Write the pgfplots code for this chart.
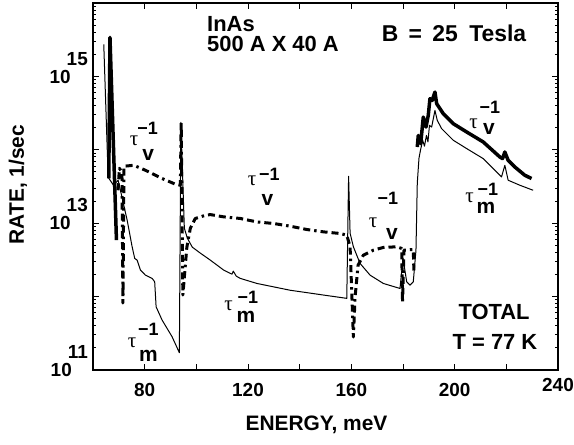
\documentclass[border=0pt]{standalone}
\usepackage{fontspec}
\setmainfont{Liberation Sans}
\newfontfamily\greekfont{Liberation Serif}
\usepackage{pgfplots}
\pgfplotsset{compat=1.18}
\usetikzlibrary{calc}

\newcommand\ylab[1]{\textbf{10}\kern-4bp\raisebox{18bp}{\textbf{#1}}}
\newcommand\tauglyph{{\greekfont\fontsize{21}{21}\selectfont τ}}
\newcommand\supm{{\fontsize{18}{18}\selectfont\bfseries −1}}
\newcommand\subs[1]{{\fontsize{21}{21}\selectfont\bfseries #1}}
% tau label: three pieces at rel axis positions
\newcommand\taulab[7]{%
  \node[inner sep=0pt] at (rel axis cs:#1,#2) {\tauglyph};
  \node[inner sep=0pt] at (rel axis cs:#3,#4) {\supm};
  \node[inner sep=0pt] at (rel axis cs:#5,#6) {\subs{#7}};
}

\begin{document}
\begin{tikzpicture}
\begin{axis}[
  scale only axis, width=465bp, height=367bp,
  xmin=60, xmax=240, ymode=log, ymin=1e11, ymax=1e16,
  axis line style={line width=1.5bp},
  tick style={black, line width=1bp},
  major tick length=6bp, minor tick length=3.5bp,
  xtick={80,100,...,220}, xticklabels={80,,120,,160,,200,},
  extra x ticks={240}, extra x tick labels={240},
  extra x tick style={tick label style={yshift=5bp}},
  ytick={1e11,1e12,1e13,1e14,1e15,1e16},
  yticklabels={\ylab{11},,\ylab{13},,\ylab{15},},
  minor ytick={2e11,3e11,4e11,5e11,6e11,7e11,8e11,9e11,
    2e12,3e12,4e12,5e12,6e12,7e12,8e12,9e12,
    2e13,3e13,4e13,5e13,6e13,7e13,8e13,9e13,
    2e14,3e14,4e14,5e14,6e14,7e14,8e14,9e14,
    2e15,3e15,4e15,5e15,6e15,7e15,8e15,9e15},
  tick label style={font=\fontsize{19}{19}\selectfont\bfseries, inner sep=0pt},
  xticklabel style={anchor=center, yshift=-20bp},
  yticklabel style={anchor=base east, xshift=-5bp, yshift=-6.8bp},
  xlabel={ENERGY, meV}, ylabel={RATE, 1/sec},
  label style={font=\fontsize{21}{21}\selectfont\bfseries},
  xlabel style={at={(axis description cs:0.4806,-0.1499)}, anchor=center},
  ylabel style={at={(axis description cs:-0.1613,0.505)}, anchor=center},
]
% tau_m (thin)
\addplot[black, line width=1bp, line join=round] coordinates {
(64.17,2.72e15)(65.87,4.23e13)(67.92,3.29e13)(69.74,3.85e13)(73.22,1.10e13)
(75.15,4.77e12)(76.15,3.31e12)(77.08,3.14e12)(78.36,2.30e12)(80.29,1.96e12)
(82.88,1.77e12)(83.88,1.59e12)(84.43,7.26e11)(86.74,4.79e11)(90.61,2.84e11)
(93.43,1.72e11)(94.01,2.37e14)(95.36,8.55e12)(96.52,6.25e12)(98.45,4.71e12)
(101.55,3.91e12)(105.41,3.14e12)(110.55,2.30e12)(113.80,2.02e12)(114.3,2.22e12)
(115.46,1.90e12)(117.0,1.77e12)(123.46,1.51e12)(136.33,1.22e12)(149.2,1.05e12)
(158.24,9.46e11)(158.94,4.36e13)(159.52,7.31e12)(160.79,4.77e12)(163.38,2.83e12)
(167.25,1.96e12)(172.39,1.51e12)(178.84,1.29e12)(180.0,3.34e12)(181.43,1.59e12)
(182.71,1.43e12)(183.98,1.59e12)(185.02,4.29e12)(185.53,3.50e13)(186.18,7.66e13)
(186.76,9.84e13)(187.61,1.35e14)(188.31,1.12e14)(189.08,1.57e14)(189.66,1.28e14)
(190.24,2.15e14)(191.09,2.04e14)(192.37,3.44e14)(193.26,2.52e14)(194.96,1.94e14)
(199.44,1.35e14)(204.62,1.04e14)(211.03,7.59e13)(218.14,4.27e13)(219.42,6.15e13)
(220.70,3.85e13)(225.22,3.29e13)(230.36,2.81e13)};
% tau_v (thick dashed part)
\addplot[black, line width=3bp, line join=round,
  dash pattern=on 7bp off 4bp on 7bp off 4bp on 2.5bp off 4bp] coordinates {
(69.66,2.81e13)(70.24,5.60e13)(71.21,4.94e13)(71.59,8.17e11)(71.98,5.97e13)
(75.77,6.15e13)(80.29,5.26e13)(86.74,4.06e13)(91.88,3.40e13)(93.82,3.29e13)
(94.13,2.44e14)(94.78,1.05e12)(96.33,4.71e12)(97.68,8.55e12)(99.61,1.16e13)
(103.48,1.28e13)(105.41,1.31e13)(110.55,1.22e13)(117.00,1.16e13)(123.46,1.04e13)
(129.88,9.91e12)(136.33,9.10e12)(142.78,8.20e12)(149.2,7.62e12)(155.65,7.24e12)
(158.24,6.87e12)(159.52,4.77e12)(160.79,2.81e11)(161.45,9.84e11)(162.61,2.68e12)
(164.66,3.67e12)(168.52,4.29e12)(172.39,4.67e12)(177.57,4.77e12)(179.50,4.53e12)
(179.81,8.41e11)(180.39,4.29e12)(183.98,4.39e12)(184.25,2.09e12)};
% tau_v (thick solid parts)
\addplot[black, line width=3.5bp, line join=round] coordinates {
(66.11,4.09e13)(66.57,3.40e15)(69.08,5.87e12)};
\addplot[black, line width=3.5bp, line join=round] coordinates {
(185.53,1.09e14)(185.91,1.57e14)(186.84,1.21e14)(187.85,2.79e14)(188.89,2.04e14)
(189.78,2.94e14)(190.43,4.97e14)(191.32,4.71e14)(191.71,5.22e14)(192.37,6.11e14)
(193.03,4.25e14)(195.58,3.11e14)(199.44,2.27e14)(204.62,1.75e14)(211.03,1.28e14)
(217.49,7.98e13)(218.53,7.59e13)(219.42,9.33e13)(220.70,7.19e13)(223.29,5.83e13)
(227.15,4.50e13)(229.74,4.06e13)};

\taulab{0.0882}{0.6253}{0.1175}{0.6583}{0.1189}{0.5866}{v}
\taulab{0.3420}{0.5150}{0.3794}{0.5343}{0.3753}{0.4626}{v}
\taulab{0.6022}{0.4019}{0.6343}{0.4689}{0.6430}{0.3699}{v}
\taulab{0.8184}{0.6703}{0.8536}{0.7169}{0.8516}{0.6574}{v}
\taulab{0.8098}{0.4700}{0.8493}{0.4921}{0.8452}{0.4408}{m}
\taulab{0.2915}{0.1744}{0.3332}{0.1992}{0.3290}{0.1438}{m}
\taulab{0.0839}{0.0749}{0.1192}{0.1120}{0.1194}{0.0389}{m}

\node[anchor=west, inner sep=0pt, font=\fontsize{22}{22}\selectfont\bfseries] at (rel axis cs:0.2452,0.9428) {InAs};
\node[anchor=west, inner sep=0pt, font=\fontsize{22}{22}\selectfont\bfseries] at (rel axis cs:0.2452,0.8883) {500 A X 40 A};
\node[inner sep=0pt, font=\fontsize{23}{23}\selectfont\bfseries] at (rel axis cs:0.7763,0.9183) {B\hspace{4bp} = \hspace{4bp}25\hspace{5bp} Tesla};
\node[inner sep=0pt, font=\fontsize{22}{22}\selectfont\bfseries] at (rel axis cs:0.8624,0.1580) {TOTAL};
\node[inner sep=0pt, font=\fontsize{22}{22}\selectfont\bfseries] at (rel axis cs:0.8645,0.0763) {T = 77 K};
\end{axis}
\pgfresetboundingbox
\path[use as bounding box] ($(current axis.south west)+(-93bp,-75bp)$) rectangle ++(574bp,445bp);
\end{tikzpicture}
\end{document}
